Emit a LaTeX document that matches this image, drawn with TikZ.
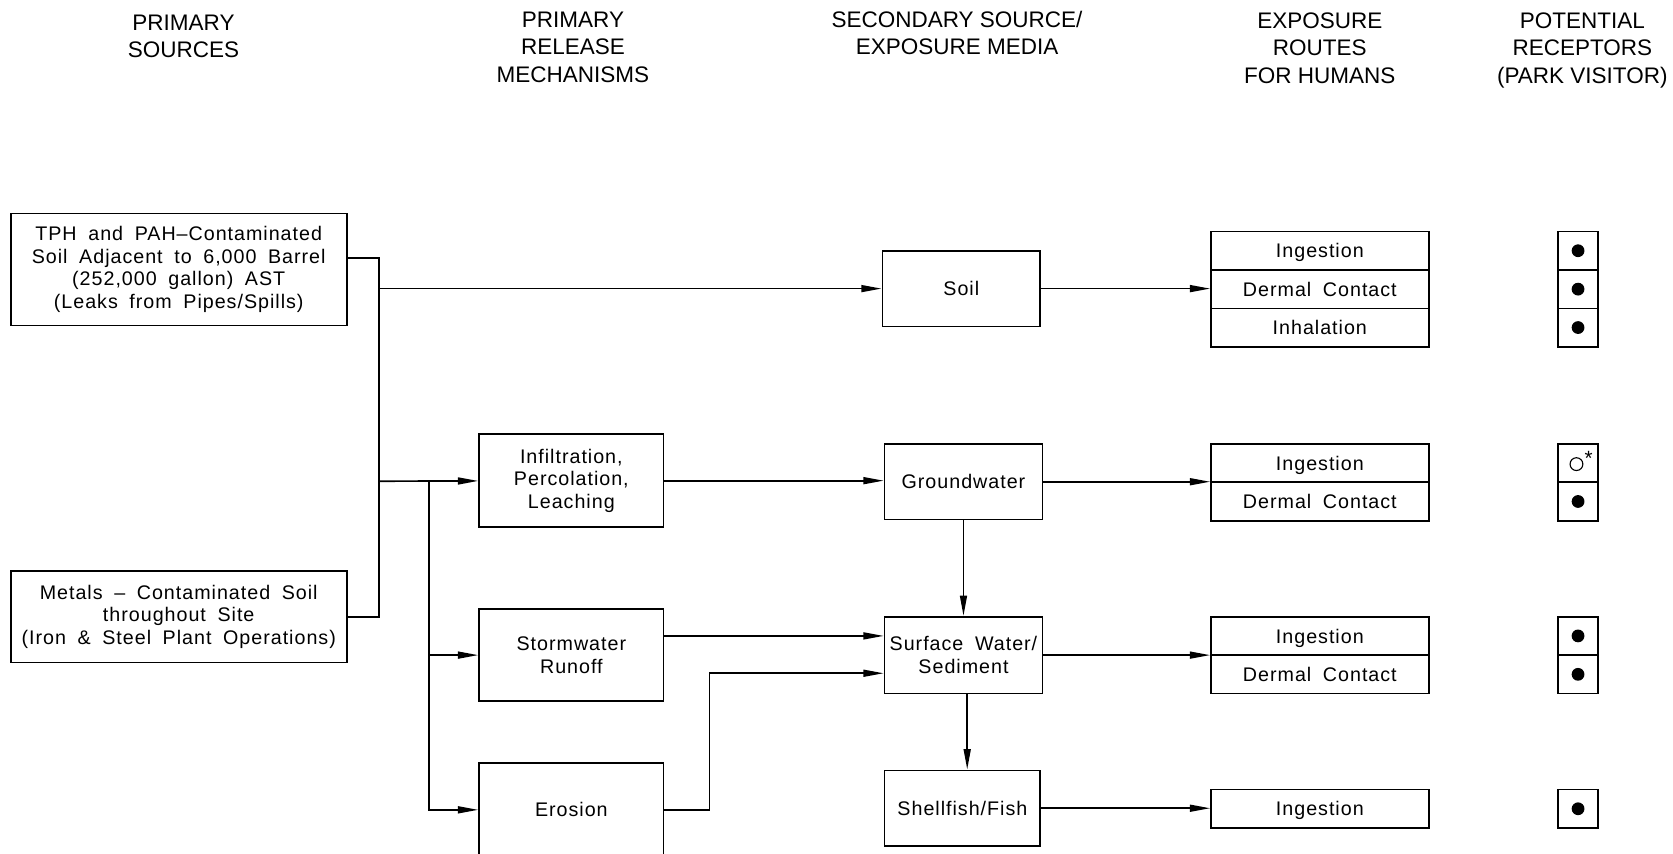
\documentclass[tikz,border=0pt]{standalone}
\usepackage{fontspec}
\setmainfont{Liberation Sans}
\newfontfamily\cadfont[LetterSpace=5,WordSpace=1.8]{Liberation Sans}
\usepackage{tikz}
\usetikzlibrary{shapes,arrows,arrows.meta}
\tikzstyle{block} = [rectangle, draw, line width=0.9pt, text centered, align=center, inner sep=0pt, font=\cadfont\fontsize{10.5}{12}\selectfont]
\tikzstyle{route} = [block, minimum width=4.08cm, minimum height=0.72cm, text height=7.6pt, text depth=0pt]
\tikzstyle{recep} = [rectangle, draw, line width=0.9pt, minimum width=0.76cm, minimum height=0.72cm]
\tikzstyle{head} = [align=center, font=\fontsize{12}{14.7}\selectfont]
\tikzstyle{wire} = [draw, line width=0.9pt]
\tikzstyle{line} = [draw, line width=0.9pt, -{Triangle[length=3.8mm,width=1.3mm]}]
\begin{document}
\begin{tikzpicture}[x=0.02cm, y=-0.02cm]
\useasboundingbox (0,0) rectangle (1568,800);
% column heads
\node [head] (h-src) at (172,34) {PRIMARY\\SOURCES};
\node [head] (h-rel) at (537,44) {PRIMARY\\RELEASE\\MECHANISMS};
\node [head] (h-media) at (897,31) {SECONDARY SOURCE/\\EXPOSURE MEDIA};
\node [head] (h-route) at (1237,45) {EXPOSURE\\ROUTES\\FOR HUMANS};
\node [head] (h-recep) at (1483,47) {POTENTIAL\\RECEPTORS\\(PARK VISITOR)};
% sources
\node [block, minimum width=6.3cm, minimum height=2.1cm] (src1) at (167.5,252.5) {TPH and PAH–Contaminated\\Soil Adjacent to 6,000 Barrel\\(252,000 gallon) AST\\(Leaks from Pipes/Spills)};
\node [block, minimum width=6.3cm, minimum height=1.72cm] (src2) at (167.5,578) {Metals – Contaminated Soil\\throughout Site\\(Iron \& Steel Plant Operations)};
% release mechanisms
\node [block, minimum width=3.46cm, minimum height=1.74cm] (infil) at (535.5,450.5) {Infiltration,\\Percolation,\\Leaching};
\node [block, minimum width=3.46cm, minimum height=1.72cm] (storm) at (535.5,614) {Stormwater\\Runoff};
\node [block, minimum width=3.46cm, minimum height=1.76cm] (erosion) at (535.5,759) {Erosion};
% media
\node [block, minimum width=2.96cm, minimum height=1.42cm] (soil) at (901,270.5) {Soil};
\node [block, minimum width=2.96cm, minimum height=1.42cm] (ground) at (903,451.5) {Groundwater};
\node [block, minimum width=2.96cm, minimum height=1.44cm] (sw) at (903,614) {Surface Water/\\Sediment};
\node [block, minimum width=2.92cm, minimum height=1.42cm] (shell) at (902,757.5) {Shellfish/Fish};
% exposure routes
\node [route] (soil-ing) at (1237,235) {Ingestion};
\node [route] (soil-derm) at (1237,271) {Dermal Contact};
\node [route] (soil-inh) at (1237,307) {Inhalation};
\node [route] (gw-ing) at (1237,434) {Ingestion};
\node [route] (gw-derm) at (1237,470) {Dermal Contact};
\node [route] (sw-ing) at (1237,596) {Ingestion};
\node [route] (sw-derm) at (1237,632) {Dermal Contact};
\node [route] (sh-ing) at (1237,758) {Ingestion};
% receptors
\node [recep] (r-soil-ing) at (1479,235) {};
\node [recep] (r-soil-derm) at (1479,271) {};
\node [recep] (r-soil-inh) at (1479,307) {};
\node [recep] (r-gw-ing) at (1479,434) {};
\node [recep] (r-gw-derm) at (1479,470) {};
\node [recep] (r-sw-ing) at (1479,596) {};
\node [recep] (r-sw-derm) at (1479,632) {};
\node [recep] (r-sh-ing) at (1479,758) {};
\fill (r-soil-ing) circle (0.12cm);
\fill (r-soil-derm) circle (0.12cm);
\fill (r-soil-inh) circle (0.12cm);
\draw [line width=0.6pt] ([xshift=-0.03cm,yshift=-0.02cm]r-gw-ing) circle (0.12cm);
\node [inner sep=0pt, font=\fontsize{11}{11}\selectfont] (r-gw-star) at ([xshift=0.2cm,yshift=0.08cm]r-gw-ing) {*};
\fill (r-gw-derm) circle (0.12cm);
\fill (r-sw-ing) circle (0.12cm);
\fill (r-sw-derm) circle (0.12cm);
\fill (r-sh-ing) circle (0.12cm);
% connectors
\coordinate (bus) at (355,451);
\coordinate (branch) at (402,451);
\coordinate (ero-bend) at (665,631);
\path [wire] ([yshift=0.21cm]src1.east) -| (bus);
\path [wire] (src2.east) -| (bus);
\path [line] (bus |- soil) -- (soil);
\path [line] (bus) -- (infil);
\path [line] (branch) |- (storm);
\path [line] (branch) |- (erosion);
\path [line] (infil.east) -- (infil.east -| ground.west);
\path [line] ([yshift=0.36cm]storm.east) -- ([yshift=0.36cm]storm.east -| sw.west);
\path [line] (erosion.east) -| (ero-bend) -- (ero-bend -| sw.west);
\path [line] (ground) -- (sw);
\path [line] ([xshift=0.07cm]sw.south) -- ([xshift=0.07cm]sw.south |- shell.north);
\path [line] (soil.east) -- (soil.east -| soil-derm.west);
\path [line] (ground.east) -- (ground.east -| gw-ing.west);
\path [line] (sw.east) -- (sw.east -| sw-ing.west);
\path [line] (shell.east) -- (shell.east -| sh-ing.west);
\end{tikzpicture}
\end{document}
